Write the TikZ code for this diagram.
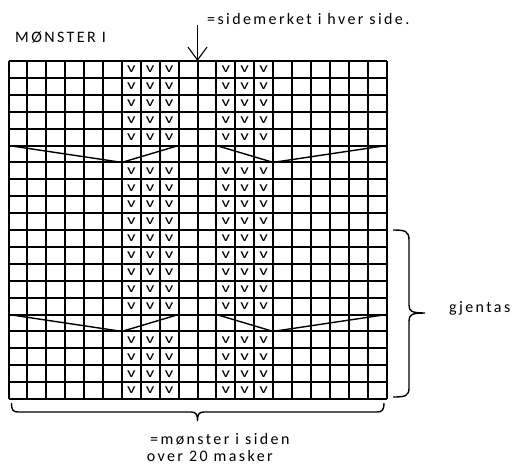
\documentclass[tikz,border=0pt]{standalone}
\usepackage{fontspec}
\setmainfont{Carlito}
\newfontfamily\lsfont{Carlito}[LetterSpace=15]
\usetikzlibrary{arrows.meta}
\begin{document}
\begin{tikzpicture}[x=1pt,y=-1pt,
  gridline/.style={line width=2pt},
  zigline/.style={line width=1.4pt},
  lbl/.style={font=\fontsize{16}{16}\selectfont\lsfont, inner sep=0pt, anchor=base west},
  vmark/.style={font=\fontsize{14}{14}\selectfont, inner sep=0pt},
  bracepath/.style={line width=1.4pt},
  arrowline/.style={line width=1.1pt, -{Straight Barb[length=13pt,width=19pt]}}]
\useasboundingbox (0,0) rectangle (513,466);
\begin{scope}[shift={(8.5,61)}, x=18.9pt, y=-16.9pt]
  \foreach \i in {0,...,20} \draw[gridline] (\i,0) -- (\i,20);
  \foreach \j in {0,...,20} \draw[gridline] (0,\j) -- (20,\j);
  \foreach \r in {0,1,2,3,4,6,7,8,9,10,11,12,13,14,16,17,18,19}
    \foreach \c in {6,7,8,11,12,13}
      \node[vmark] at (\c+0.5,\r+0.5) {\scalebox{1.35}[1]{v}};
  \foreach \r in {5,15} {
    \draw[zigline] (0,\r) -- (6,\r+1) -- (9,\r);
    \draw[zigline] (11,\r) -- (14,\r+1) -- (20,\r);
  }
\end{scope}
\node[lbl] (title) at (15,42.7) {MØNSTER I};
\node[lbl] (side) at (207,24.5) {=sidemerket i hver side.};
\coordinate (arrowtop) at (197.5,25);
\coordinate (arrowend) at (197.5,61);
\draw[arrowline] (arrowtop) -- (arrowend);
\node[lbl] (rep) at (449,312.5) {gjentas};
\node[lbl] (pat1) at (150,444.5) {=mønster i siden};
\node[lbl] (pat2) at (146.7,461.5) {over 20 masker};
% right brace
\draw[bracepath] (393,230) .. controls (405,230) and (409,231) .. (409,240)
  -- (409,305) .. controls (409,311) and (411,313) .. (425,313)
  .. controls (411,313) and (409,315) .. (409,321)
  -- (409,388) .. controls (409,396) and (405,397) .. (393,397);
% bottom brace
\draw[bracepath] (11.5,403) .. controls (11.5,410) and (13,412) .. (18,412)
  -- (191,412) .. controls (196,412) and (197.5,414) .. (197.5,421)
  .. controls (197.5,414) and (199,412) .. (204,412)
  -- (377,412) .. controls (382,412) and (384,410) .. (384,403);
\end{tikzpicture}
\end{document}
